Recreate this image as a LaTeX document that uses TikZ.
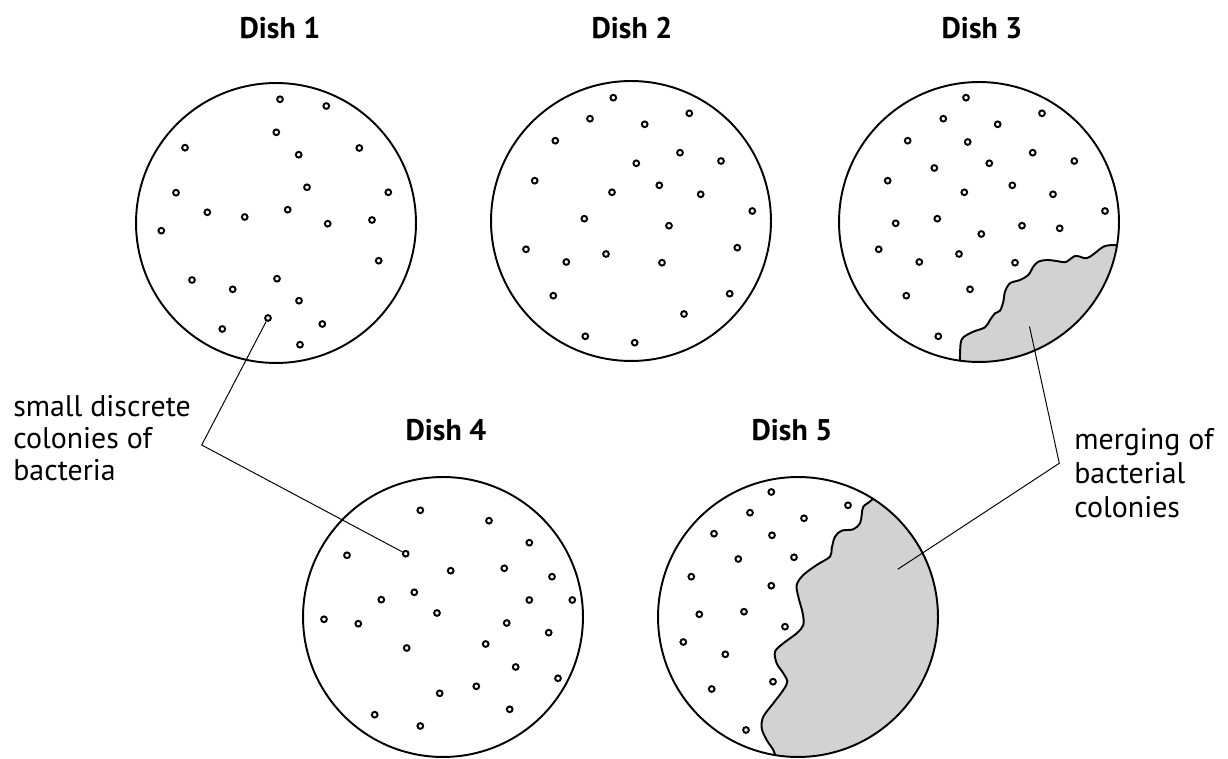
\documentclass[tikz,border=0pt]{standalone}
\usepackage{fontspec}
\setmainfont{PT Sans}
\definecolor{shadegray}{RGB}{210,210,210}
\begin{document}
\begin{tikzpicture}[x=0.02cm,y=-0.02cm,
  dish/.style={line width=1.1pt},
  dot/.style={circle,draw,line width=1.1pt,inner sep=0pt,minimum size=0.115cm},
  leader/.style={line width=0.55pt},
  wave/.style={line width=1.1pt,line join=round},
  colony/.style={fill=shadegray},
  title/.style={font=\fontsize{17}{20}\selectfont\bfseries,anchor=base,inner sep=0pt},
  lblL/.style={font=\fontsize{17}{18.2}\selectfont,align=left,inner sep=0pt},
  lblR/.style={font=\fontsize{17}{19.4}\selectfont,align=left,inner sep=0pt}]
\useasboundingbox (0,0) rectangle (1228,759);
\fill[white] (0,0) rectangle (1228,759);

% centres
\coordinate (c1) at (276,223);
\coordinate (c2) at (631,221);
\coordinate (c3) at (979,222);
\coordinate (c4) at (443,617);
\coordinate (c5) at (798,617);

% titles
\node[title] (t1) at (280,39) {Dish 1};
\node[title] (t2) at (632,39) {Dish 2};
\node[title] (t3) at (982,39) {Dish 3};
\node[title] (t4) at (446,441) {Dish 4};
\node[title] (t5) at (792,441) {Dish 5};

% shaded colonies, dish 3
\begin{scope}
  \clip (c3) circle[radius=2.8cm];
  \fill[colony] plot[smooth,tension=0.55] coordinates {(959.5,372) (960,355) (960.7,343.3) (963.3,337.3) (973.3,331.7) (985,327.3) (990,320) (995,313.3) (1000,310.7) (1003.3,301.7) (1005,291.7) (1010,283.3) (1020,280) (1028.3,275) (1033.3,266.7) (1038.3,261.7) (1046.7,260) (1056.7,261) (1065,262.3) (1070,259.3) (1075,256) (1080,256.7) (1085,258.3) (1090,256.7) (1096.7,251.7) (1103.3,246.7) (1111.7,245) (1120,245.7) (1130,246)}
    -- (1140,246) -- (1140,380) -- (959.5,380) -- cycle;
  \draw[wave] plot[smooth,tension=0.55] coordinates {(959.5,372) (960,355) (960.7,343.3) (963.3,337.3) (973.3,331.7) (985,327.3) (990,320) (995,313.3) (1000,310.7) (1003.3,301.7) (1005,291.7) (1010,283.3) (1020,280) (1028.3,275) (1033.3,266.7) (1038.3,261.7) (1046.7,260) (1056.7,261) (1065,262.3) (1070,259.3) (1075,256) (1080,256.7) (1085,258.3) (1090,256.7) (1096.7,251.7) (1103.3,246.7) (1111.7,245) (1120,245.7) (1130,246)};
\end{scope}

% shaded colonies, dish 5
\begin{scope}
  \clip (c5) circle[radius=2.8cm];
  \fill[colony] plot[smooth,tension=0.55] coordinates {(878,490) (871.7,500) (863.3,506.7) (861.7,515) (860,523.3) (853.3,529.3) (841.7,530.7) (835,536.7) (831.7,548.3) (830,556.7) (816.7,565) (803.3,575) (796.7,585) (798.3,596.7) (802.7,613.3) (803.3,625) (796.7,633.3) (783.3,643.3) (775,651.7) (776.7,663.3) (783.3,673.3) (787.3,681.7) (783.3,690) (773.3,703.3) (763.3,716.7) (761.7,728.3) (766.7,740) (773.3,750) (776,758.3) (778,768)}
    -- (960,768) -- (960,470) -- (885,470) -- cycle;
  \draw[wave] plot[smooth,tension=0.55] coordinates {(878,490) (871.7,500) (863.3,506.7) (861.7,515) (860,523.3) (853.3,529.3) (841.7,530.7) (835,536.7) (831.7,548.3) (830,556.7) (816.7,565) (803.3,575) (796.7,585) (798.3,596.7) (802.7,613.3) (803.3,625) (796.7,633.3) (783.3,643.3) (775,651.7) (776.7,663.3) (783.3,673.3) (787.3,681.7) (783.3,690) (773.3,703.3) (763.3,716.7) (761.7,728.3) (766.7,740) (773.3,750) (776,758.3) (778,768)};
\end{scope}

% dishes
\foreach \c in {c1,c2,c3,c4,c5}
  \draw[dish] (\c) circle[radius=2.8cm];

% colonies (dots)
\foreach \x/\y [count=\i] in {
  280/99.3, 326.3/106, 276.3/132.3, 185/147.7, 359.3/148, 298.7/154.7, 307/187.3, 176/192.7, 388.3/192.3, 207.3/212.3, 244.7/217, 287.7/209.7, 327.7/223.7, 372/220, 161.3/230.7, 378.7/260.7, 192/280, 277/278.7, 232.7/289.3, 299/300.7, 322.3/324, 222.3/329, 300/344.7,
  613.3/97.7, 590/118.7, 689.3/113.3, 644.7/124.3, 555.3/140.7, 680/152.7, 636.3/163.3, 721/161, 534.7/180.7, 659.3/185.3, 612/192.3, 700.7/194.3, 752.3/211, 584.3/218.7, 669/225.7, 526/249.3, 737.3/247.7, 566.3/262, 606/254, 662/262.7, 553.3/295.7, 729.7/293.7, 684/314, 585.3/336.3, 634.7/342.7,
  966/97.7, 943.3/118.7, 1042/113.3, 997.7/124.3, 907.7/140.7, 967.7/142, 1032.7/152.7, 934.3/168, 989.3/163.3, 1074.3/161, 887.7/180.7, 1012.3/185.3, 964.3/192.3, 1053/194.3, 1105/211, 895.7/223.3, 937.3/218.7, 1022/225.7, 981.3/234, 1059.7/228.3, 878.7/249.3, 919.3/262, 959/254, 1015/262.7, 906.3/295.7, 970/289.3, 938.3/336.3,
  420.3/510.3, 489/520.7, 529.3/542.7, 347/555.3, 450.7/570.7, 504.3/568.3, 552/576.7, 381.3/599.7, 414.3/592.3, 529.3/600, 572.3/600, 437/613, 324/619.3, 358.3/623.7, 506.7/623, 548.7/632.7, 406.7/648, 485.7/644, 515.7/667, 558/678.3, 476.3/686.3, 439.7/693.3, 509.7/709.3, 374.7/714.7, 420.3/726,
  771.3/492, 750/512.7, 848/505.3, 804/518.3, 714/533.7, 772/535.3, 738.3/559, 794/557.3, 691.3/576.7, 771.3/585.7, 699.3/614.3, 744/611.7, 785/626.7, 683.3/642, 725.3/654.3, 773/681.7, 711.7/689, 746/730}
  \node[dot] (k\i) at (\x,\y) {};

% colonies picked out by the labels
\node[dot] (d1t) at (268,318) {};
\node[dot] (d4t) at (405.7,553.7) {};
\coordinate (s3) at (1029.5,326.5);
\coordinate (s5) at (897.7,569.3);

% labels
\node[lblL,anchor=north west] (labL) at (13,395) {small discrete\\colonies of\\bacteria};
\node[lblR,anchor=north west] (labR) at (1074,428) {merging of\\bacterial\\colonies};

% leader lines
\coordinate (jL) at (201.7,445);
\coordinate (jR) at (1059.3,463.3);
\draw[leader] (d1t) -- (jL) -- (d4t);
\draw[leader] (s3) -- (jR) -- (s5);
\end{tikzpicture}
\end{document}
